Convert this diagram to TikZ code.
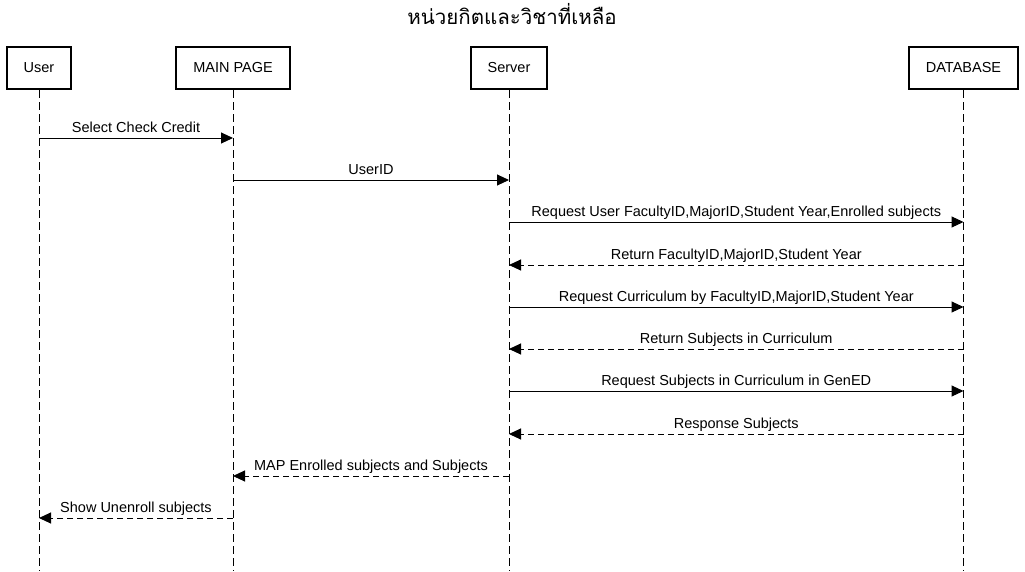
\documentclass[tikz,border=0pt]{standalone}
\usepackage{fontspec}
\setmainfont{Liberation Sans}
\newfontfamily\thaifont[Script=Thai]{Loma}
\usetikzlibrary{arrows.meta}
\tikzset{
  actor/.style={draw, line width=2.3pt, minimum height=42pt, inner sep=0pt, font=\fontsize{14.5}{17}\selectfont},
  life/.style={line width=1pt, dash pattern=on 8pt off 4pt},
  msg/.style={line width=1pt, -{Triangle[length=12pt,width=11pt]}},
  ret/.style={msg, dash pattern=on 6pt off 4pt},
  lbl/.style={font=\fontsize{14.5}{17}\selectfont, inner sep=0pt, anchor=base}
}
\begin{document}
\begin{tikzpicture}[x=1pt,y=-1pt]
\useasboundingbox (0,0) rectangle (1025,571);
\node[font=\thaifont\fontsize{20.5}{24}\selectfont] (title) at (512,14) {หน่วยกิตและวิชาที่เหลือ};
\node[actor, minimum width=64pt] (user) at (39,68) {User};
\node[actor, minimum width=114pt] (main) at (233,68) {MAIN PAGE};
\node[actor, minimum width=76pt] (server) at (509,68) {Server};
\node[actor, minimum width=109pt] (db) at (963.5,68) {DATABASE};
\coordinate (userEnd) at (39,571);
\coordinate (mainEnd) at (233,571);
\coordinate (serverEnd) at (509,571);
\coordinate (dbEnd) at (963.5,571);
\draw[life] (user.south) -- (userEnd);
\draw[life] (main.south) -- (mainEnd);
\draw[life] (server.south) -- (serverEnd);
\draw[life] (db.south) -- (dbEnd);

\draw[msg] (user |- 0,138) -- node[lbl, yshift=6pt]{Select Check Credit} (main |- 0,138);
\draw[msg] (main |- 0,180) -- node[lbl, yshift=6pt]{UserID} (server |- 0,180);
\draw[msg] (server |- 0,222) -- node[lbl, yshift=6pt]{Request User FacultyID,MajorID,Student Year,Enrolled subjects} (db |- 0,222);
\draw[ret] (db |- 0,265) -- node[lbl, yshift=6pt]{Return FacultyID,MajorID,Student Year} (server |- 0,265);
\draw[msg] (server |- 0,307) -- node[lbl, yshift=6pt]{Request Curriculum by FacultyID,MajorID,Student Year} (db |- 0,307);
\draw[ret] (db |- 0,349) -- node[lbl, yshift=6pt]{Return Subjects in Curriculum} (server |- 0,349);
\draw[msg] (server |- 0,391) -- node[lbl, yshift=6pt]{Request Subjects in Curriculum in GenED} (db |- 0,391);
\draw[ret] (db |- 0,434) -- node[lbl, yshift=6pt]{Response Subjects} (server |- 0,434);
\draw[ret] (server |- 0,476) -- node[lbl, yshift=6pt]{MAP Enrolled subjects and Subjects} (main |- 0,476);
\draw[ret] (main |- 0,518) -- node[lbl, yshift=6pt]{Show Unenroll subjects} (user |- 0,518);
\end{tikzpicture}
\end{document}
